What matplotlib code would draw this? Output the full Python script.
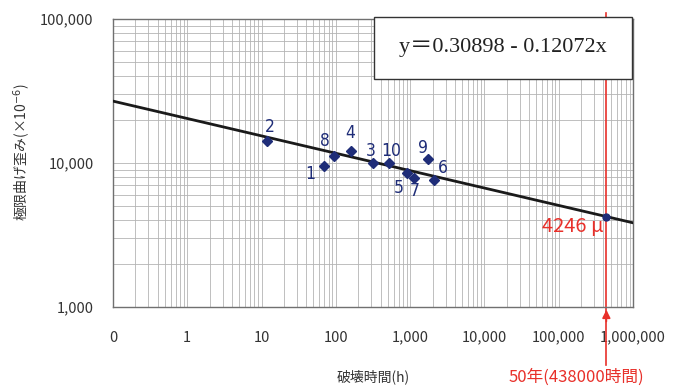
import matplotlib.pyplot as plt
import numpy as np
from matplotlib.patches import Rectangle

plt.rcParams['font.family'] = ['Noto Sans CJK JP', 'DejaVu Sans']

# failure time (h) and limit bending strain (x10^-6)
sample_ids = ['1', '2', '3', '4', '5', '6', '7', '8', '9', '10']
hours = [70, 12, 313, 158, 900, 2090, 1125, 94, 1720, 524]
strain = [9600, 14300, 9950, 12200, 8500, 7650, 7850, 11100, 10600, 9950]

# regression: log10(strain %) = a + b*log10(t)
coef_a = 0.30898
coef_b = -0.12072
t50 = 438000
strain50 = 4246

x_ticks = [0.1, 1, 10, 100, 1000, 10000, 100000, 1000000]
x_labels = ['0', '1', '10', '100', '1,000', '10,000', '100,000', '1,000,000']
y_ticks = [1000, 10000, 100000]
y_labels = ['1,000', '10,000', '100,000']

# label offsets in pixels (dx, dy) for each point
label_off = {'1': (-14, -8), '2': (2, 14), '3': (-2, 12), '4': (0, 18), '5': (-8, -15),
             '6': (9, 12), '7': (1, -13), '8': (-9, 15), '9': (-5, 11), '10': (2, 12)}

navy = '#1f2d78'
red = '#e8302a'

fig = plt.figure(figsize=(6.79, 3.88), dpi=100)
ax = fig.add_axes([113 / 679, 81 / 388, 520 / 679, 288 / 388])
ax.set_xscale('log')
ax.set_yscale('log')
ax.set_xlim(0.1, 1e6)
ax.set_ylim(1000, 100000)

ax.grid(True, which='both', color='#b4b4b4', linewidth=0.6)
ax.set_axisbelow(True)
for s in ax.spines.values():
    s.set_color('#707070')
    s.set_linewidth(1)

ax.set_xticks(x_ticks)
ax.set_xticklabels(x_labels)
ax.set_yticks(y_ticks)
ax.set_yticklabels(y_labels)
ax.tick_params(which='both', length=0)
ax.tick_params(axis='x', pad=17, labelsize=10.5, labelcolor='#333333')
ax.tick_params(axis='y', pad=14, labelsize=10.5, labelcolor='#333333')

# regression line
tt = np.logspace(-1, 6, 50)
ax.plot(tt, 1e4 * 10 ** (coef_a + coef_b * np.log10(tt)), color='#1a1a1a', lw=2, zorder=3)

# data points
ax.plot(hours, strain, 'D', color=navy, markersize=5.5, zorder=4)
for sid, h, s in zip(sample_ids, hours, strain):
    dx, dy = label_off[sid]
    ax.annotate(sid, (h, s), xytext=(dx, dy), textcoords='offset pixels',
                ha='center', va='center', color=navy, fontsize=12.5,
                family=['DejaVu Sans'], fontstretch='condensed')

# 50 year marker
trans = ax.get_xaxis_transform()
ax.plot([t50, t50], [-0.2, 1.02], color=red, lw=1.2, transform=trans, clip_on=False, zorder=2)
ax.annotate('', xy=(t50, 0), xytext=(t50, -0.06), xycoords=trans, textcoords=trans,
            arrowprops=dict(arrowstyle='-|>', color=red, lw=1.2, mutation_scale=12),
            annotation_clip=False)
ax.plot([t50], [strain50], 'o', color=navy, markersize=5, zorder=4)
ax.annotate('4246 μ', (t50, strain50), xytext=(-3, -10), textcoords='offset pixels',
            ha='right', va='center', color=red, fontsize=14.5)
fig.text(576 / 679, 1 - 377 / 388, '50年(438000時間)', ha='center', va='center',
         color=red, fontsize=12)

# equation box
ax.add_patch(Rectangle((0.502, 0.792), 0.496, 0.215, transform=ax.transAxes,
                       facecolor='white', edgecolor='#333333', lw=1, clip_on=False, zorder=6))
ax.text(0.75, 0.8995, 'y＝0.30898 - 0.12072x', transform=ax.transAxes, ha='center',
        va='center', fontsize=16, color='#222222', zorder=7,
        family=['Liberation Serif', 'Noto Sans CJK JP'])

fig.text(22 / 679, 1 - 152 / 388, '極限曲げ歪み(×10$^{-6}$)', rotation=90,
         ha='center', va='center', fontsize=10, color='#333333')
fig.text(373 / 679, 1 - 377 / 388, '破壊時間(h)', ha='center', va='center',
         fontsize=10, color='#333333')

fig.savefig('out.png', dpi=100)
